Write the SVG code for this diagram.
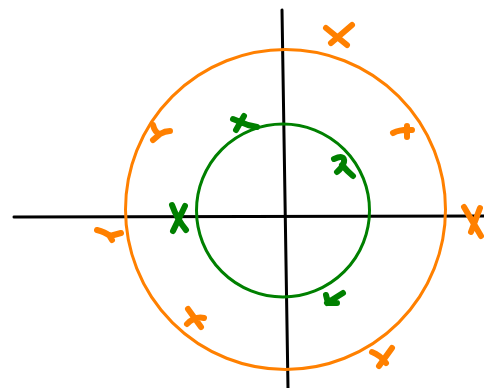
<svg xmlns="http://www.w3.org/2000/svg" width="484" height="388" viewBox="0 0 484 388">
<style>
.ax{stroke:#000;stroke-width:3;fill:none;stroke-linecap:round}
.oc{stroke:#FF8000;stroke-width:3;fill:none}
.gc{stroke:#008000;stroke-width:3;fill:none}
.om{stroke:#FF8000;stroke-width:6;fill:none;stroke-linecap:round;stroke-linejoin:round}
.gm{stroke:#008000;stroke-width:6;fill:none;stroke-linecap:round;stroke-linejoin:round}
</style>
<rect width="484" height="388" fill="#fff"/>
<g id="axes">
<path class="ax" d="M14,217 L484,216"/>
<path class="ax" d="M282,10 L288,388"/>
</g>
<g id="outer-circle"><circle class="oc" cx="285.5" cy="209.5" r="160"/></g>
<g id="inner-circle"><circle class="gc" cx="283" cy="210.5" r="86.5"/></g>
<g id="poles-orange">
<path class="om" d="M326,28 L347,45 M331,43 L352,25"/>
<path class="om" d="M153,125 Q155,133 160,134 Q165,131 170,131 M153,140 L160,134"/>
<path class="om" d="M393,133 Q401,129 412,130 M407,126 L407,137"/>
<path class="om" d="M97,230 Q105,232 110,236 L121,233 M112,240 L109,235"/>
<path class="om" d="M464,207 L481,236 M480,208 L471,232"/>
<path class="om" d="M188,309 L201,327 M187,324 Q195,316 204,318"/>
<path class="om" d="M372,352 Q380,355 386,363 M392,348 L379,366"/>
</g>
<g id="poles-green">
<path class="gm" d="M233,119 L248,125 L257,127 M244,116 L236,130"/>
<path class="gm" d="M334,159 Q345,154 344,162 Q342,168 337,172 M342,165 Q348,172 353,176"/>
<path class="gm" d="M172,205 Q177,219 186,230 M185,206 L173,231"/>
<path class="gm" d="M327,303 L343,293 M326,295 L328,303 L337,303"/>
</g>
</svg>
